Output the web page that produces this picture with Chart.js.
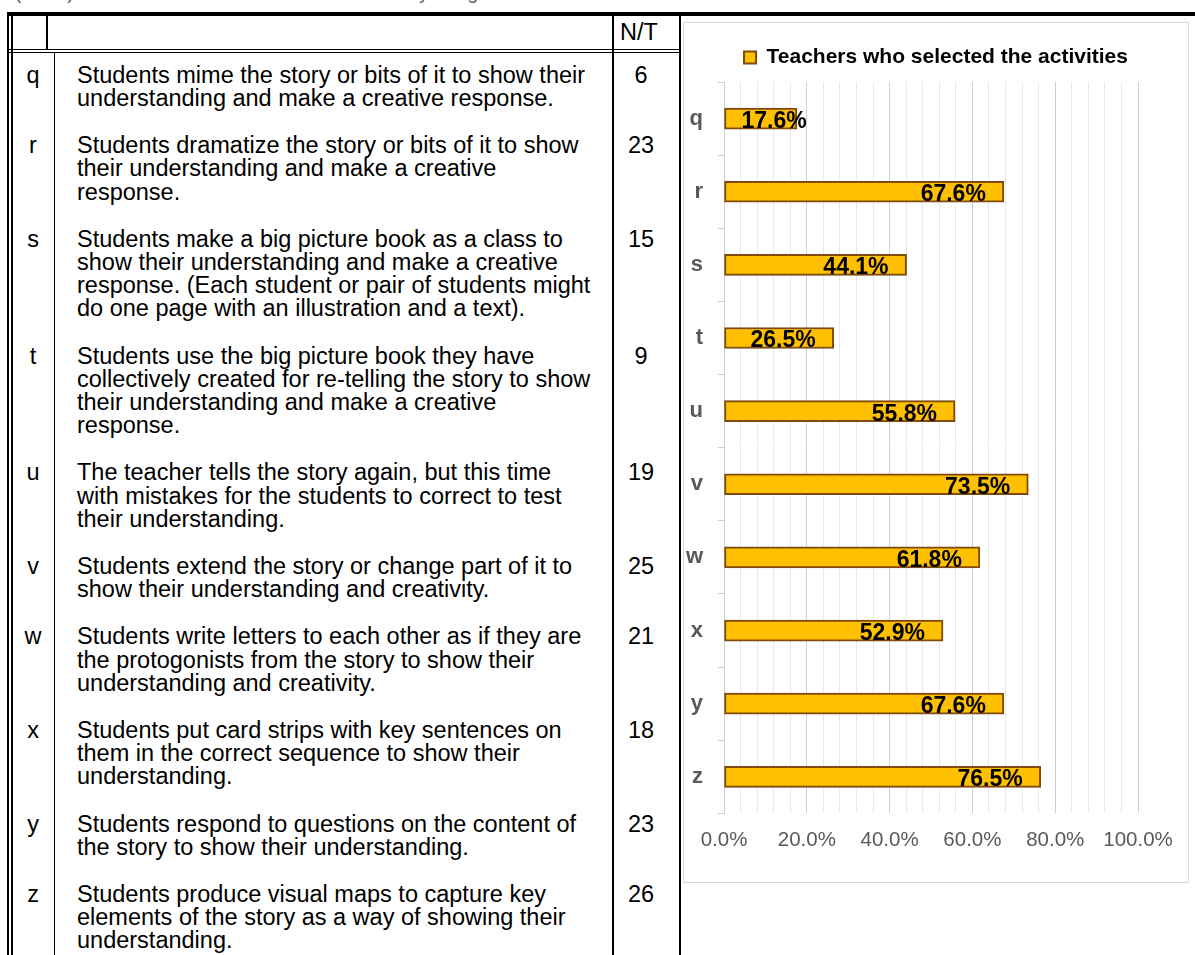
<!DOCTYPE html>
<html>
<head>
<meta charset="utf-8">
<script src="https://cdn.jsdelivr.net/npm/chart.js@4.4.1/dist/chart.umd.min.js"></script>
<style>
    html, body { margin: 0; padding: 0; background: #fff; }
    body { width: 1195px; height: 955px; position: relative; overflow: hidden; font-family: "Liberation Sans", Arial, sans-serif; }
    .linea { position: absolute; background: #000; }
    .celda { position: absolute; font-size: 23.5px; line-height: 23px; color: #000; white-space: nowrap; }
    #leyenda-tabla { position: absolute; left: 15px; top: -17px; font-size: 19px; line-height: 19px; color: #595959; white-space: nowrap; }
    #caja-grafico { position: absolute; left: 683px; top: 22px; width: 506px; height: 861px; border: 1px solid #d9d9d9; box-sizing: border-box; background: #fff; }
</style>
</head>
<body>
<div id="leyenda-tabla">(N=34) Activities teachers selected after the storytelling</div>
<div id="tabla"></div>
<div id="caja-grafico"><canvas id="actividades-chart"></canvas></div>
<script>
// Datos de la tabla y del gráfico
var letras = ['q', 'r', 's', 't', 'u', 'v', 'w', 'x', 'y', 'z'];
var actividades = [
    ['Students mime the story or bits of it to show their', 'understanding and make a creative response.'],
    ['Students dramatize the story or bits of it to show', 'their understanding and make a creative', 'response.'],
    ['Students make a big picture book as a class to', 'show their understanding and make a creative', 'response. (Each student or pair of students might', 'do one page with an illustration and a text).'],
    ['Students use the big picture book they have', 'collectively created for re-telling the story to show', 'their understanding and make a creative', 'response.'],
    ['The teacher tells the story again, but this time', 'with mistakes for the students to correct to test', 'their understanding.'],
    ['Students extend the story or change part of it to', 'show their understanding and creativity.'],
    ['Students write letters to each other as if they are', 'the protogonists from the story to show their', 'understanding and creativity.'],
    ['Students put card strips with key sentences on', 'them in the correct sequence to show their', 'understanding.'],
    ['Students respond to questions on the content of', 'the story to show their understanding.'],
    ['Students produce visual maps to capture key', 'elements of the story as a way of showing their', 'understanding.']
];
var numeroProfesores = [6, 23, 15, 9, 19, 25, 21, 18, 23, 26];
var porcentajes = [17.6, 67.6, 44.1, 26.5, 55.8, 73.5, 61.8, 52.9, 67.6, 76.5];
var etiquetasEje = [0, 20, 40, 60, 80, 100];
var tituloSerie = 'Teachers who selected the activities';

var fuente = '"Liberation Sans", Arial, sans-serif';

// Dibujar la tabla (líneas y textos)
function crearDiv(clase, estilo, html) {
    var d = document.createElement('div');
    d.className = clase;
    for (var k in estilo) { d.style[k] = estilo[k]; }
    if (html !== undefined) d.innerHTML = html;
    document.getElementById('tabla').appendChild(d);
    return d;
}

function dibujarTabla() {
    // bordes
    crearDiv('linea', { left: '7px', top: '12px', width: '1188px', height: '4px' });
    crearDiv('linea', { left: '7px', top: '12px', width: '2px', height: '943px' });
    crearDiv('linea', { left: '11px', top: '12px', width: '1.5px', height: '943px' });
    crearDiv('linea', { left: '46px', top: '16px', width: '1.5px', height: '33px' });
    crearDiv('linea', { left: '612px', top: '16px', width: '1.5px', height: '939px' });
    crearDiv('linea', { left: '679px', top: '16px', width: '2px', height: '939px' });
    crearDiv('linea', { left: '7px', top: '48.5px', width: '674px', height: '1.5px' });
    crearDiv('linea', { left: '7px', top: '51.5px', width: '674px', height: '1.5px' });
    crearDiv('linea', { left: '53.5px', top: '53px', width: '1.5px', height: '902px' });

    // encabezado
    crearDiv('celda', { left: '620px', top: '21px' }, 'N/T');

    var primeraBase = 83.3, altoLinea = 23.2, separacionFila = 24, ajusteBase = 19.6;
    var lineasAntes = 0;
    for (var i = 0; i < letras.length; i++) {
        var base = primeraBase + lineasAntes * altoLinea + i * separacionFila;
        var arriba = (base - ajusteBase) + 'px';
        crearDiv('celda', { left: '12px', width: '42px', textAlign: 'center', top: arriba, lineHeight: altoLinea + 'px' }, letras[i]);
        crearDiv('celda', { left: '77px', top: arriba, lineHeight: altoLinea + 'px' }, actividades[i].join('<br>'));
        crearDiv('celda', { left: '613px', width: '56px', textAlign: 'center', top: arriba, lineHeight: altoLinea + 'px' }, String(numeroProfesores[i]));
        lineasAntes += actividades[i].length;
    }
}
dibujarTabla();

// Etiquetas de datos dentro de las barras
var etiquetasBarras = {
    id: 'etiquetasBarras',
    beforeLayout: function (chart) {
        // un poco más de espacio bajo la leyenda
        var leyenda = chart.legend;
        if (leyenda && !leyenda._ajustada) {
            var fitOriginal = leyenda.fit;
            leyenda.fit = function () {
                fitOriginal.apply(this, arguments);
                this.height += 4;
            };
            leyenda._ajustada = true;
        }
    },
    afterDatasetsDraw: function (chart) {
        var ctx = chart.ctx;
        var meta = chart.getDatasetMeta(0);
        ctx.save();
        ctx.font = 'bold 23px ' + fuente;
        ctx.fillStyle = '#000';
        ctx.textAlign = 'left';
        ctx.textBaseline = 'alphabetic';
        meta.data.forEach(function (barra, i) {
            var texto = porcentajes[i].toFixed(1) + '%';
            var ancho = ctx.measureText(texto).width;
            var x = Math.max(barra.x - 18 - ancho, barra.base + 17);
            ctx.fillText(texto, x, barra.y + 9.5);
        });
        ctx.restore();
    }
};

var ctx = document.getElementById('actividades-chart').getContext('2d');
Chart.defaults.font.family = fuente;

window.actividadesChart = new Chart(ctx, {
    type: 'bar',
    data: {
        labels: letras,
        datasets: [{
            label: tituloSerie,
            data: porcentajes,
            backgroundColor: '#FFC000',
            borderColor: '#7F4A0C',
            borderWidth: 2,
            borderSkipped: false,
            barThickness: 21
        }]
    },
    options: {
        indexAxis: 'y',
        responsive: true,
        maintainAspectRatio: false,
        animation: false,
        layout: {
            padding: { top: 14, right: 0, bottom: 14, left: 0 }
        },
        scales: {
            x: {
                min: 0,
                max: 100,
                ticks: {
                    stepSize: 4,
                    autoSkip: false,
                    maxRotation: 0,
                    padding: 15,
                    color: '#595959',
                    font: { size: 20.5 },
                    callback: function (v) {
                        return etiquetasEje.indexOf(v) !== -1 ? v.toFixed(1) + '%' : '';
                    }
                },
                grid: {
                    drawTicks: false,
                    color: function (c) {
                        return c.tick && etiquetasEje.indexOf(c.tick.value) !== -1 ? '#d0d0d0' : '#e9e9e9';
                    }
                },
                border: { display: false }
            },
            y: {
                ticks: {
                    color: '#595959',
                    padding: 15,
                    font: { size: 22, weight: 'bold' }
                },
                grid: {
                    display: true,
                    drawOnChartArea: false,
                    drawTicks: true,
                    tickLength: 6,
                    offset: true,
                    color: '#d0d0d0'
                },
                border: { display: true, color: '#d0d0d0' },
                afterFit: function (scale) { scale.width = 40; }
            },
            // eje vacío a la derecha para dejar el margen del gráfico
            margenDerecho: {
                type: 'linear',
                position: 'right',
                display: true,
                ticks: { display: false },
                grid: { display: false },
                border: { display: false },
                afterFit: function (scale) { scale.width = 50; }
            }
        },
        plugins: {
            legend: {
                position: 'top',
                labels: {
                    boxWidth: 12,
                    boxHeight: 12,
                    padding: 10,
                    color: '#000',
                    font: { size: 21, weight: 'bold' }
                }
            },
            tooltip: { enabled: false }
        }
    },
    plugins: [etiquetasBarras]
});
</script>
</body>
</html>
